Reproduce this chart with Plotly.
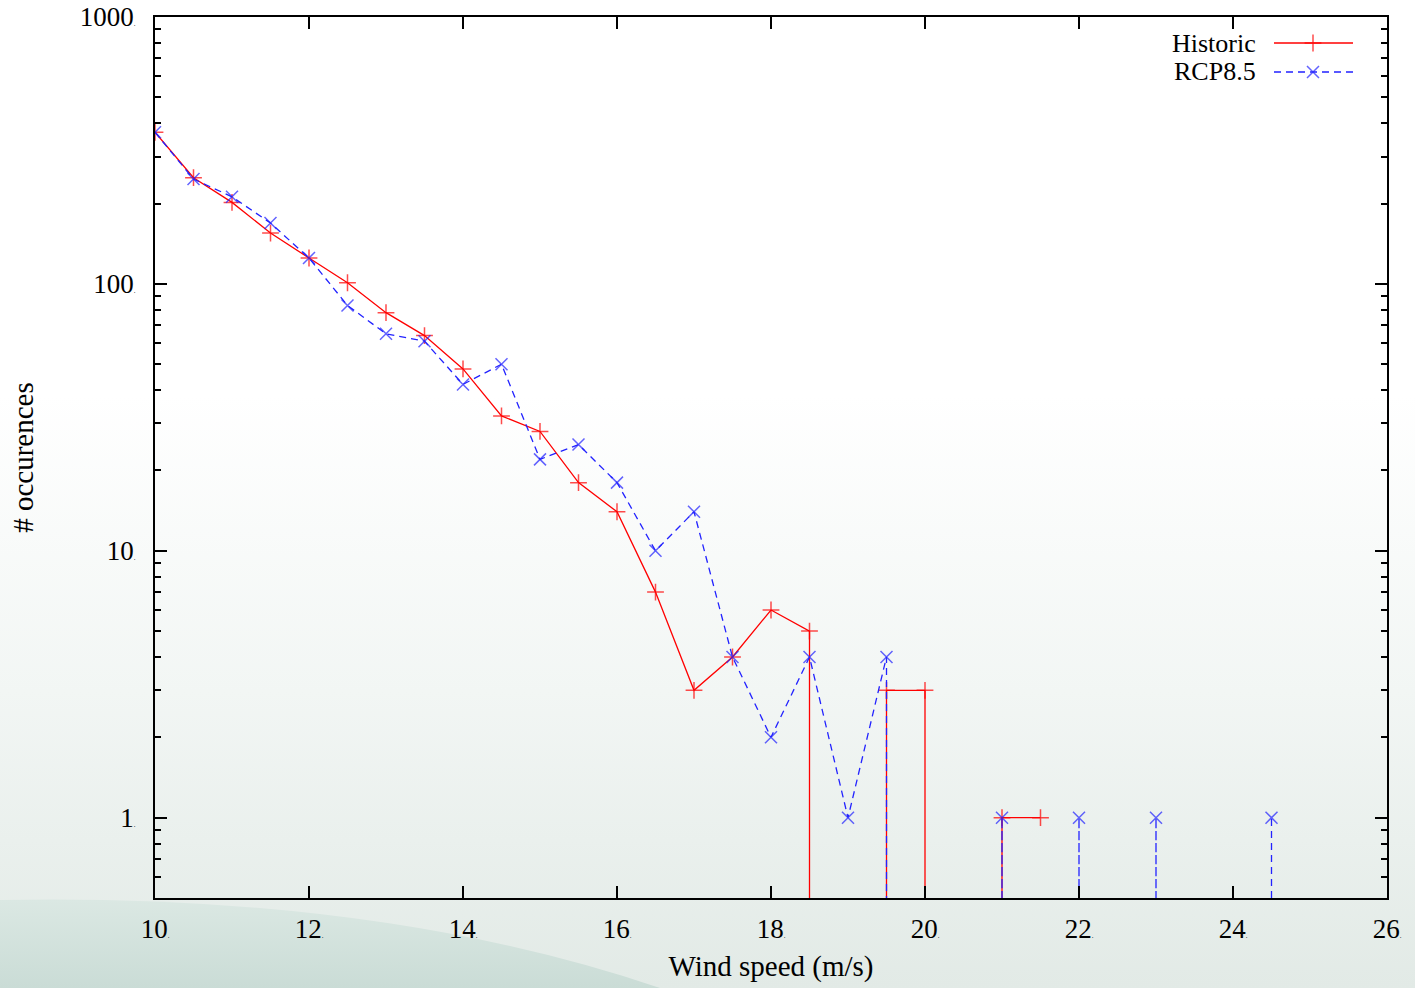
import base64
import math
import plotly.graph_objects as go

# Wind-speed bins (m/s) and occurrence counts for each scenario
wind_hist = [10, 10.5, 11, 11.5, 12, 12.5, 13, 13.5, 14, 14.5, 15, 15.5, 16, 16.5,
             17, 17.5, 18, 18.5, 19, 19.5, 20, 20.5, 21, 21.5]
count_hist = [370, 250, 202, 155, 125, 101, 78, 64, 48, 32, 28, 18, 14, 7,
              3, 4, 6, 5, 0, 3, 3, 0, 1, 1]

wind_rcp = [10, 10.5, 11, 11.5, 12, 12.5, 13, 13.5, 14, 14.5, 15, 15.5, 16, 16.5,
            17, 17.5, 18, 18.5, 19, 19.5, 20, 20.5, 21, 21.5, 22, 22.5, 23, 23.5,
            24, 24.5]
count_rcp = [370, 247, 212, 169, 125, 83, 65, 61, 42, 50, 22, 25, 18, 10,
             14, 4, 2, 4, 1, 4, 0, 0, 1, 0, 1, 0, 1, 0, 0, 1]

x_ticks = [10, 12, 14, 16, 18, 20, 22, 24, 26]
y_ticks = [1, 10, 100, 1000]

FONT = "Liberation Serif"
W, H = 1415, 988
ML, MR, MT, MB = 155, 28, 17, 90
PW, PH = W - ML - MR, H - MT - MB

y_lo, y_hi = math.log10(0.5), 3.0
floor_val = 10 ** y_lo  # zero counts drop to the bottom of the log axis
MSIZE = 12


def log_path(xs, ys):
    """Polyline for a log axis: zero counts become vertical drops to the floor."""
    px, py, size = [], [], []
    n = len(xs)
    for i, (x, y) in enumerate(zip(xs, ys)):
        if y <= 0:
            px.append(None); py.append(None); size.append(0)
            continue
        if i > 0 and ys[i - 1] <= 0:
            px.append(x); py.append(floor_val); size.append(0)
        px.append(x); py.append(y); size.append(MSIZE)
        if i < n - 1 and ys[i + 1] <= 0:
            px.append(x); py.append(floor_val); size.append(0)
    return px, py, size


def dotted(v):
    return f"{v}<span style='font-size:7px'>.</span>"


RED, BLUE = "#ff0000", "#2222ff"
DASH = "7px,5px"

fig = go.Figure()

hx, hy, hs = log_path(wind_hist, count_hist)
fig.add_trace(go.Scatter(
    x=hx, y=hy, mode="lines+markers", name="Historic", connectgaps=False,
    line=dict(color=RED, width=1.3),
    marker=dict(symbol="cross-thin", size=hs, line=dict(color=RED, width=1.5)),
    showlegend=False,
))

rx, ry, rs = log_path(wind_rcp, count_rcp)
fig.add_trace(go.Scatter(
    x=rx, y=ry, mode="lines+markers", name="RCP8.5", connectgaps=False,
    line=dict(color=BLUE, width=1.3, dash=DASH),
    marker=dict(symbol="x-thin", size=rs, line=dict(color=BLUE, width=1.5)),
    showlegend=False,
))

# Key samples (gnuplot style: label on the left, sample on the right)
key_x0, key_xm, key_x1 = (1274 - ML) / PW, (1313 - ML) / PW, (1353 - ML) / PW
key_rows = [
    ("Historic", (H - MB - 43) / PH, RED, "solid", "cross-thin"),
    ("RCP8.5", (H - MB - 72) / PH, BLUE, DASH, "x-thin"),
]
for name, ky, col, dash, sym in key_rows:
    fig.add_trace(go.Scatter(
        x=[key_x0, key_xm, key_x1], y=[ky, ky, ky], xaxis="x2", yaxis="y2",
        mode="lines+markers", showlegend=False, hoverinfo="skip",
        line=dict(color=col, width=1.3, dash=dash),
        marker=dict(symbol=sym, size=[0, MSIZE, 0], line=dict(color=col, width=1.5)),
    ))
    fig.add_annotation(
        x=(1258 - ML) / PW, y=ky, xref="paper", yref="paper", text=name,
        showarrow=False, xanchor="right", yanchor="middle",
        font=dict(family=FONT, size=26, color="black"),
    )

# Page background: soft vertical gradient with a swoosh in the lower-left corner
svg = f"""<svg xmlns='http://www.w3.org/2000/svg' width='{W}' height='{H}' viewBox='0 0 {W} {H}' preserveAspectRatio='none'>
<defs>
<linearGradient id='bg' x1='0' y1='0' x2='0' y2='1'>
<stop offset='0' stop-color='#ffffff'/>
<stop offset='0.40' stop-color='#ffffff'/>
<stop offset='0.70' stop-color='#f2f6f4'/>
<stop offset='1' stop-color='#e2eae6'/>
</linearGradient>
<linearGradient id='sw' x1='0' y1='0' x2='0' y2='1'>
<stop offset='0' stop-color='#dbe8e3'/>
<stop offset='1' stop-color='#cadcd6'/>
</linearGradient>
</defs>
<rect x='0' y='0' width='{W}' height='{H}' fill='url(#bg)'/>
<path d='M0,900 Q380,893 660,988 L0,988 Z' fill='url(#sw)'/>
</svg>"""
src = "data:image/svg+xml;base64," + base64.b64encode(svg.encode()).decode()

fig.update_layout(
    width=W, height=H,
    margin=dict(l=ML, r=MR, t=MT, b=MB, autoexpand=False),
    paper_bgcolor="rgba(0,0,0,0)",
    plot_bgcolor="rgba(0,0,0,0)",
    font=dict(family=FONT, size=27, color="black"),
    images=[dict(
        source=src, xref="paper", yref="paper",
        x=-ML / PW, y=1 + MT / PH, sizex=W / PW, sizey=H / PH,
        xanchor="left", yanchor="top", sizing="stretch", layer="below",
    )],
    xaxis=dict(
        range=[10, 26], tickvals=x_ticks, ticktext=[dotted(v) for v in x_ticks],
        ticks="inside", ticklen=12, tickwidth=2, tickcolor="black",
        showline=True, linewidth=2, linecolor="black", mirror="allticks",
        showgrid=False, zeroline=False, ticklabelstandoff=6, automargin=False,
        tickfont=dict(family=FONT, size=27),
        title=dict(text="Wind speed (m/s)", standoff=12,
                   font=dict(family=FONT, size=29)),
    ),
    yaxis=dict(
        type="log", range=[y_lo, y_hi], tickvals=y_ticks,
        ticktext=[dotted(v) for v in y_ticks],
        ticks="inside", ticklen=12, tickwidth=2, tickcolor="black",
        showline=True, linewidth=2, linecolor="black", mirror="allticks",
        showgrid=False, zeroline=False, ticklabelstandoff=12, automargin=False,
        tickfont=dict(family=FONT, size=27),
        minor=dict(
            tickvals=[m * 10 ** d for d in range(-1, 3) for m in range(2, 10)
                      if 10 ** y_lo <= m * 10 ** d <= 10 ** y_hi],
            ticks="inside", ticklen=6, tickwidth=2, tickcolor="black", showgrid=False,
        ),
        title=dict(text="# occurences", standoff=38,
                   font=dict(family=FONT, size=29)),
    ),
    xaxis2=dict(overlaying="x", range=[0, 1], visible=False, fixedrange=True),
    yaxis2=dict(overlaying="y", range=[0, 1], visible=False, fixedrange=True),
)

fig.write_html("out.html")
